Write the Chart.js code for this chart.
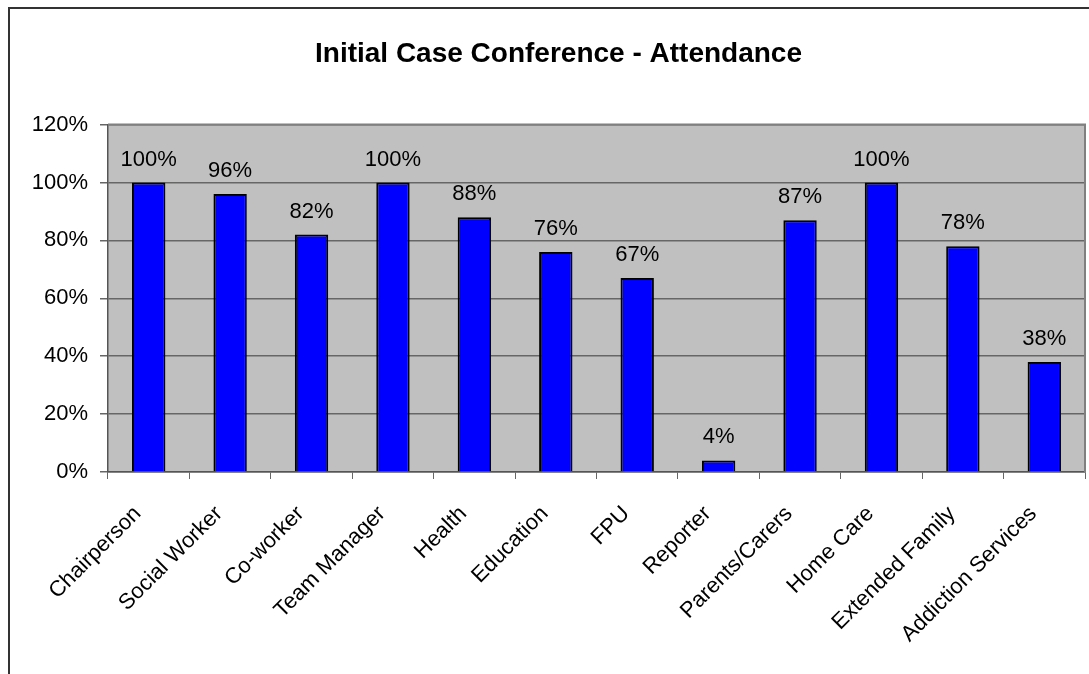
<!DOCTYPE html>
<html>
<head>
<meta charset="utf-8">
<script src="https://cdn.jsdelivr.net/npm/chart.js@4/dist/chart.umd.min.js"></script>
<style>
  html, body { margin: 0; padding: 0; background: #fff; }
  #wrap { width: 1089px; height: 674px; }
</style>
</head>
<body>
<div id="wrap"><canvas id="attendanceChart"></canvas></div>
<script>
// Datos
const categories = ['Chairperson', 'Social Worker', 'Co-worker', 'Team Manager', 'Health', 'Education',
    'FPU', 'Reporter', 'Parents/Carers', 'Home Care', 'Extended Family', 'Addiction Services'];
const attendance = [100, 96, 82, 100, 88, 76, 67, 4, 87, 100, 78, 38];
const yTicks = [0, 20, 40, 60, 80, 100, 120];

// Fondo gris del área de trazado y marco exterior
const plotBackground = {
    id: 'plotBackground',
    beforeDraw(chart) {
        const ctx = chart.ctx;
        const a = chart.chartArea;
        ctx.save();
        ctx.fillStyle = '#ffffff';
        ctx.fillRect(0, 0, chart.width, chart.height);
        ctx.fillStyle = '#c0c0c0';
        ctx.fillRect(a.left, a.top, a.right - a.left, a.bottom - a.top);
        // marco exterior (arriba e izquierda visibles)
        ctx.strokeStyle = '#333333';
        ctx.lineWidth = 2;
        ctx.beginPath();
        ctx.moveTo(9, chart.height + 2);
        ctx.lineTo(9, 8);
        ctx.lineTo(chart.width + 2, 8);
        ctx.stroke();
        ctx.restore();
    },
    afterDatasetsDraw(chart) {
        const ctx = chart.ctx;
        const a = chart.chartArea;
        ctx.save();
        ctx.strokeStyle = '#808080';
        ctx.lineWidth = 2;
        ctx.beginPath();
        ctx.moveTo(a.left, a.top);
        ctx.lineTo(a.right, a.top);
        ctx.lineTo(a.right, a.bottom);
        ctx.stroke();
        ctx.restore();
    }
};

// Etiquetas de valor encima de cada barra
const valueLabels = {
    id: 'valueLabels',
    afterDatasetsDraw(chart) {
        const ctx = chart.ctx;
        const meta = chart.getDatasetMeta(0);
        ctx.save();
        ctx.font = '22px "Liberation Sans", Arial, sans-serif';
        ctx.fillStyle = '#000000';
        ctx.textAlign = 'center';
        ctx.textBaseline = 'middle';
        meta.data.forEach(function (bar, i) {
            ctx.fillText(attendance[i] + '%', bar.x, bar.y - 23);
        });
        ctx.restore();
    }
};

document.addEventListener("DOMContentLoaded", function () {
    const ctx = document.getElementById('attendanceChart').getContext('2d');
    const attendanceChart = new Chart(ctx, {
        type: 'bar',
        data: {
            labels: categories,
            datasets: [{
                label: 'Attendance',
                data: attendance,
                backgroundColor: '#0000ff',
                borderColor: '#000000',
                borderWidth: 2,
                barPercentage: 0.41,
                categoryPercentage: 1
            }]
        },
        options: {
            responsive: true,
            maintainAspectRatio: false,
            animation: false,
            devicePixelRatio: 1,
            layout: { padding: { left: 32, right: 4, top: 0, bottom: 0 } },
            plugins: {
                legend: { display: false },
                tooltip: { enabled: false },
                title: {
                    display: true,
                    text: 'Initial Case Conference - Attendance',
                    color: '#000000',
                    font: { family: '"Liberation Sans", Arial, sans-serif', size: 28, weight: 'bold' },
                    padding: { top: 37, bottom: 54 }
                }
            },
            scales: {
                x: {
                    grid: {
                        display: true,
                        drawOnChartArea: false,
                        drawTicks: true,
                        tickLength: 7,
                        color: '#666666',
                        offset: true
                    },
                    border: { display: true, color: '#555555', width: 1.5 },
                    ticks: {
                        color: '#000000',
                        font: { family: '"Liberation Sans", Arial, sans-serif', size: 22 },
                        minRotation: 45,
                        maxRotation: 45,
                        autoSkip: false,
                        padding: 22,
                        labelOffset: -11
                    },
                    afterFit: function (scale) { scale.height = 202; }
                },
                y: {
                    min: 0,
                    max: 120,
                    afterBuildTicks: function (scale) {
                        scale.ticks = yTicks.map(function (v) { return { value: v }; });
                    },
                    grid: {
                        color: '#666666',
                        lineWidth: 1.5,
                        tickLength: 8,
                        drawTicks: true
                    },
                    border: { display: true, color: '#555555', width: 1.5 },
                    ticks: {
                        color: '#000000',
                        font: { family: '"Liberation Sans", Arial, sans-serif', size: 22 },
                        padding: 12,
                        callback: function (v) { return v + '%'; }
                    },
                    afterFit: function (scale) { scale.width = 76; }
                }
            }
        },
        plugins: [plotBackground, valueLabels]
    });
});
</script>
</body>
</html>
